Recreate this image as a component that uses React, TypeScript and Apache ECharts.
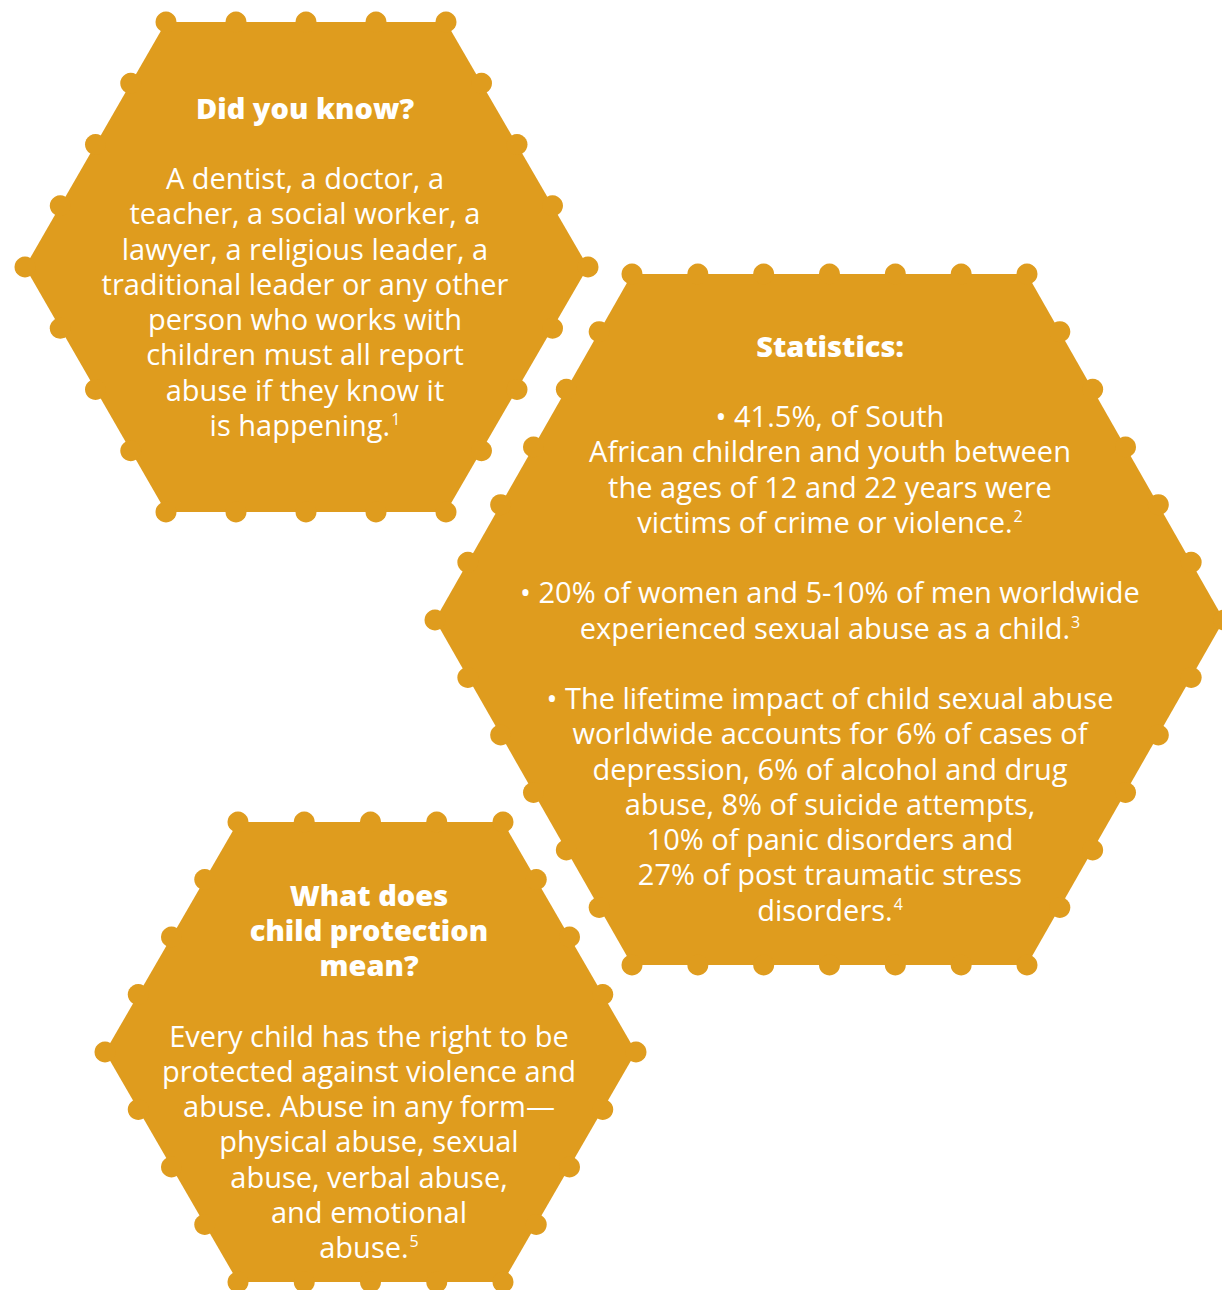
import React, { useEffect, useRef } from "react";
import * as echarts from "echarts";

// ---------- Content (data) ----------
const hexTitles: string[][] = [
  ["Did you know?"],
  ["Statistics:"],
  ["What does", "child protection", "mean?"],
];

const hexBodies: string[][] = [
  [
    "A dentist, a doctor, a",
    "teacher, a social worker, a",
    "lawyer, a religious leader, a",
    "traditional leader or any other",
    "person who works with",
    "children must all report",
    "abuse if they know it",
    "is happening.^1",
  ],
  [
    "• 41.5%, of South",
    "African children and youth between",
    "the ages of 12 and 22 years were",
    "victims of crime or violence.^2",
    "",
    "• 20% of women and 5-10% of men worldwide",
    "experienced sexual abuse as a child.^3",
    "",
    "• The lifetime impact of child sexual abuse",
    "worldwide accounts for 6% of cases of",
    "depression, 6% of alcohol and drug",
    "abuse, 8% of suicide attempts,",
    "10% of panic disorders and",
    "27% of post traumatic stress",
    "disorders.^4",
  ],
  [
    "Every child has the right to be",
    "protected against violence and",
    "abuse. Abuse in any form—",
    "physical abuse, sexual",
    "abuse, verbal abuse,",
    "and emotional",
    "abuse.^5",
  ],
];

// ---------- Layout (positions / sizes, kept separate) ----------
const W = 1222;
const H = 1290;
const hexVerts: number[][][] = [
  [[166, 22], [446, 22], [588, 267], [446, 512], [166, 512], [25, 267]],
  [[632, 274], [1027, 274], [1224, 620], [1027, 965], [632, 965], [435, 620]],
  [[238, 822], [503, 822], [636, 1052], [503, 1282], [238, 1282], [105, 1052]],
];
const hexSegments = [4, 6, 4];
const textAnchor: number[][] = [
  [305, 107],
  [830, 345],
  [369, 894],
];
const titleGapLines = [1, 1, 1];
const LINE_H = 35.25;
const TEXT_BOX_H = 33;
const DOT_R = 10.5;
const GOLD = "#DF9C1E";
const FONT = "'Open Sans', Lato, sans-serif";
const BODY_SIZE = 29;
const TITLE_SIZE = 29;
const SUP_SIZE = 16;

function renderHex(params: any, api: any) {
  const i = api.value(0);
  const verts = hexVerts[i].map((p) => api.coord(p));
  const segs = hexSegments[i];
  const rPx = api.size([DOT_R, DOT_R])[0];
  const children: any[] = [];
  children.push({
    type: "polygon",
    shape: { points: verts },
    style: { fill: GOLD },
  });
  for (let e = 0; e < 6; e++) {
    const a = hexVerts[i][e];
    const b = hexVerts[i][(e + 1) % 6];
    for (let s = 0; s < segs; s++) {
      const t = s / segs;
      const c = api.coord([a[0] + (b[0] - a[0]) * t, a[1] + (b[1] - a[1]) * t]);
      children.push({
        type: "circle",
        shape: { cx: c[0], cy: c[1], r: rPx },
        style: { fill: GOLD },
      });
    }
  }
  const anchor = textAnchor[i];
  let line = 0;
  hexTitles[i].forEach((t) => {
    const p = api.coord([anchor[0], anchor[1] + line * LINE_H]);
    children.push({
      type: "text",
      style: {
        text: t,
        x: p[0],
        y: p[1],
        fill: "#ffffff",
        fontFamily: FONT,
        fontSize: TITLE_SIZE,
        fontWeight: 800,
        lineHeight: TEXT_BOX_H,
        align: "center",
        verticalAlign: "middle",
      },
    });
    line++;
  });
  line += titleGapLines[i];
  hexBodies[i].forEach((t) => {
    if (t) {
      const p = api.coord([anchor[0], anchor[1] + line * LINE_H]);
      const parts = t.split("^");
      const txt = parts.length > 1 ? parts[0] + "{sup|" + parts[1] + "}" : parts[0];
      children.push({
        type: "text",
        style: {
          text: txt,
          x: p[0],
          y: p[1],
          fill: "#ffffff",
          fontFamily: FONT,
          fontSize: BODY_SIZE,
          lineHeight: TEXT_BOX_H,
          align: "center",
          verticalAlign: "middle",
          rich: {
            sup: {
              fontSize: SUP_SIZE,
              fontFamily: FONT,
              fill: "#ffffff",
              verticalAlign: "top",
              lineHeight: 18,
              padding: [3, 0, 0, 1],
            },
          },
        },
      });
    }
    line++;
  });
  return { type: "group", children };
}

export default function App() {
  const ref = useRef<HTMLDivElement>(null);
  useEffect(() => {
    document.body.style.margin = "0";
    if (!ref.current) return;
    const chart = echarts.init(ref.current, null, { renderer: "svg" });
    chart.setOption({
      animation: false,
      backgroundColor: "#ffffff",
      grid: { left: 0, right: 0, top: 0, bottom: 0 },
      xAxis: { type: "value", min: 0, max: W, show: false },
      yAxis: { type: "value", min: 0, max: H, inverse: true, show: false },
      series: [
        {
          type: "custom",
          clip: false,
          renderItem: renderHex,
          data: hexVerts.map((_, i) => [i, 0]),
        },
      ],
    });
    return () => chart.dispose();
  }, []);
  return <div ref={ref} style={{ width: W, height: H }} />;
}
